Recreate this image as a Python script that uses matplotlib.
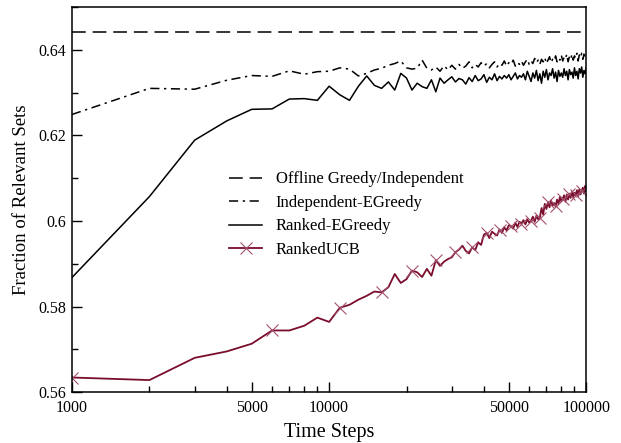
import numpy as np
import matplotlib
matplotlib.use("Agg")
import matplotlib.pyplot as plt
from matplotlib.ticker import FixedLocator, FuncFormatter, MultipleLocator

plt.rcParams['font.family'] = ['Liberation Serif', 'DejaVu Serif']

# time steps 1000, 2000, ..., 100000
steps = np.arange(1000, 100001, 1000)

# offline greedy / independent (flat line)
offline_greedy = 0.6441

# independent e-greedy
indep_egreedy = [
    0.6249, 0.6310, 0.6308, 0.6329, 0.6340, 0.6338, 0.6351, 0.6343, 0.6349, 0.6350,
    0.6358, 0.6355, 0.6339, 0.6345, 0.6353, 0.6357, 0.6364, 0.6368, 0.6374, 0.6358,
    0.6355, 0.6357, 0.6376, 0.6357, 0.6353, 0.6360, 0.6350, 0.6363, 0.6353, 0.6364,
    0.6355, 0.6366, 0.6357, 0.6362, 0.6372, 0.6358, 0.6366, 0.6360, 0.6370, 0.6362,
    0.6368, 0.6358, 0.6366, 0.6372, 0.6360, 0.6368, 0.6364, 0.6374, 0.6362, 0.6370,
    0.6366, 0.6376, 0.6362, 0.6370, 0.6366, 0.6374, 0.6364, 0.6372, 0.6378, 0.6366,
    0.6374, 0.6368, 0.6380, 0.6370, 0.6376, 0.6366, 0.6378, 0.6372, 0.6382, 0.6368,
    0.6376, 0.6384, 0.6370, 0.6378, 0.6374, 0.6386, 0.6372, 0.6380, 0.6376, 0.6388,
    0.6374, 0.6382, 0.6378, 0.6390, 0.6372, 0.6384, 0.6378, 0.6390, 0.6376, 0.6386,
    0.6380, 0.6392, 0.6374, 0.6388, 0.6382, 0.6392, 0.6378, 0.6390, 0.6384, 0.6386,
]

# ranked e-greedy
ranked_egreedy = [
    0.5868, 0.6057, 0.6189, 0.6234, 0.6261, 0.6262, 0.6285, 0.6286, 0.6282, 0.6315,
    0.6295, 0.6282, 0.6315, 0.6339, 0.6317, 0.6310, 0.6325, 0.6306, 0.6345, 0.6334,
    0.6306, 0.6322, 0.6314, 0.6310, 0.6330, 0.6302, 0.6334, 0.6322, 0.6330, 0.6337,
    0.6325, 0.6333, 0.6330, 0.6320, 0.6335, 0.6326, 0.6340, 0.6328, 0.6332, 0.6342,
    0.6324, 0.6336, 0.6330, 0.6344, 0.6328, 0.6338, 0.6332, 0.6340, 0.6334, 0.6342,
    0.6330, 0.6338, 0.6346, 0.6332, 0.6340, 0.6336, 0.6344, 0.6330, 0.6350, 0.6338,
    0.6326, 0.6346, 0.6334, 0.6352, 0.6328, 0.6344, 0.6322, 0.6350, 0.6336, 0.6354,
    0.6330, 0.6346, 0.6340, 0.6356, 0.6334, 0.6348, 0.6326, 0.6352, 0.6338, 0.6346,
    0.6336, 0.6356, 0.6340, 0.6350, 0.6330, 0.6354, 0.6342, 0.6348, 0.6334, 0.6358,
    0.6340, 0.6350, 0.6332, 0.6356, 0.6346, 0.6360, 0.6336, 0.6352, 0.6344, 0.6358,
]

# ranked UCB
ranked_ucb = [
    0.5634, 0.5628, 0.5680, 0.5695, 0.5713, 0.5744, 0.5744, 0.5755, 0.5774, 0.5764,
    0.5797, 0.5804, 0.5816, 0.5825, 0.5835, 0.5833, 0.5845, 0.5876, 0.5855, 0.5864,
    0.5884, 0.5880, 0.5869, 0.5888, 0.5872, 0.5908, 0.5895, 0.5905, 0.5911, 0.5915,
    0.5927, 0.5933, 0.5942, 0.5930, 0.5924, 0.5938, 0.5932, 0.5950, 0.5944, 0.5968,
    0.5972, 0.5960, 0.5975, 0.5970, 0.5966, 0.5980, 0.5972, 0.5985, 0.5978, 0.5990,
    0.5988, 0.5982, 0.5996, 0.5986, 0.5998, 0.5994, 0.6002, 0.5992, 0.6004, 0.5996,
    0.6000, 0.6010, 0.5998, 0.6012, 0.6004, 0.6008, 0.6030, 0.6015, 0.6040, 0.6028,
    0.6044, 0.6032, 0.6048, 0.6036, 0.6042, 0.6034, 0.6050, 0.6040, 0.6056, 0.6046,
    0.6052, 0.6060, 0.6045, 0.6062, 0.6050, 0.6064, 0.6054, 0.6068, 0.6056, 0.6066,
    0.6060, 0.6072, 0.6058, 0.6074, 0.6062, 0.6070, 0.6078, 0.6064, 0.6082, 0.6070,
]

major_x = [1000, 5000, 10000, 50000, 100000]
minor_x = [2000, 3000, 4000, 6000, 7000, 8000, 9000,
           20000, 30000, 40000, 60000, 70000, 80000, 90000]
y_ticks = [0.56, 0.58, 0.60, 0.62, 0.64]

fig = plt.figure(figsize=(6.21, 4.43), dpi=100)
ax = fig.add_axes([0.116, 0.115, 0.828, 0.869])

ax.axhline(offline_greedy, color="black", lw=1.1, dashes=(9, 4.5),
           label="Offline Greedy/Independent")
ax.plot(steps, indep_egreedy, color="black", lw=1.1, dashes=(6, 3, 1.5, 3),
        label="Independent-EGreedy")
ax.plot(steps, ranked_egreedy, color="black", lw=1.1, label="Ranked-EGreedy")
ax.plot(steps, ranked_ucb, color="#7a0d2c", lw=1.3, marker="x", markevery=5,
        markersize=8, markeredgewidth=0.8, markeredgecolor="#a3506c",
        label="RankedUCB")

ax.set_xscale("log")
ax.set_xlim(1000, 100000)
ax.set_ylim(0.56, 0.65)

ax.xaxis.set_major_locator(FixedLocator(major_x))
ax.xaxis.set_minor_locator(FixedLocator(minor_x))
ax.xaxis.set_major_formatter(FuncFormatter(lambda v, p: "%d" % v))
ax.xaxis.set_minor_formatter(FuncFormatter(lambda v, p: ""))
ax.yaxis.set_major_locator(FixedLocator(y_ticks))
ax.yaxis.set_minor_locator(MultipleLocator(0.01))
ax.yaxis.set_major_formatter(FuncFormatter(lambda v, p: "%g" % round(v, 2)))

ax.tick_params(which="both", direction="in", top=False, right=False,
               labelsize=11.5, width=1.0)
ax.tick_params(axis="x", pad=5.5)
ax.tick_params(axis="y", pad=4)
ax.tick_params(which="major", length=7)
ax.tick_params(which="minor", length=4)
for s in ax.spines.values():
    s.set_linewidth(1.1)

ax.set_xlabel("Time Steps", fontsize=14.5, labelpad=5)
ax.set_ylabel("Fraction of Relevant Sets", fontsize=13.5, labelpad=6)

ax.legend(loc="upper left", bbox_to_anchor=(0.276, 0.612), frameon=False,
          fontsize=12, handlelength=2.0, labelspacing=0.45)

fig.savefig("out.png", dpi=100)
